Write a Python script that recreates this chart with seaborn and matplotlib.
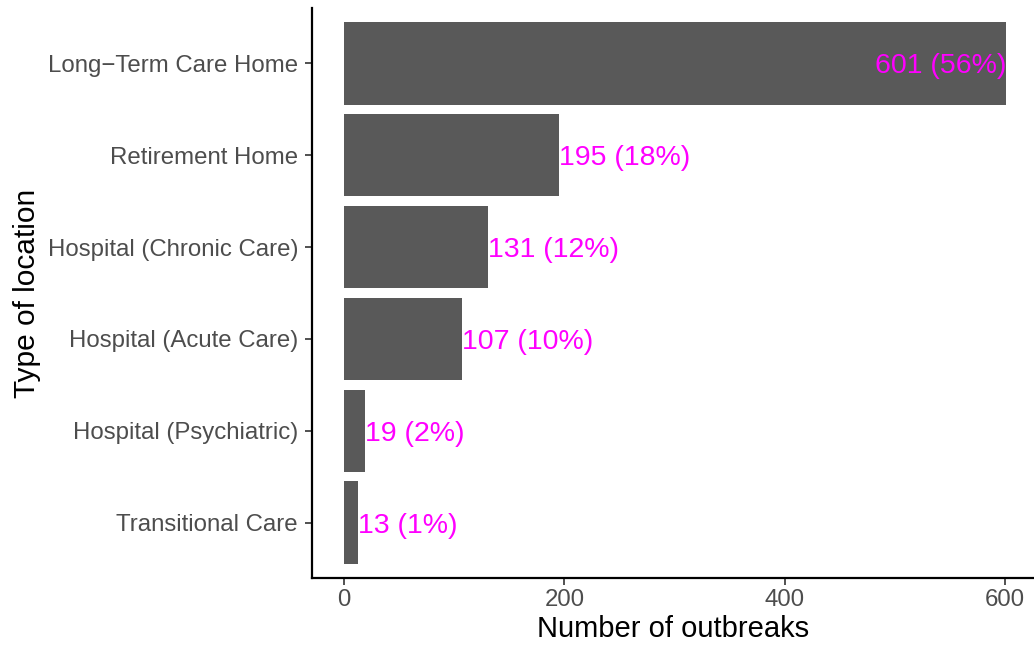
import pandas as pd
import seaborn as sns
import matplotlib.pyplot as plt

# outbreak counts by type of location
locations = ['Long\u2212Term Care Home', 'Retirement Home', 'Hospital (Chronic Care)',
             'Hospital (Acute Care)', 'Hospital (Psychiatric)', 'Transitional Care']
counts = [601, 195, 131, 107, 19, 13]
percents = [56, 18, 12, 10, 2, 1]

df = pd.DataFrame({'location': locations, 'count': counts, 'pct': percents})

sns.set_style('white')
plt.rcParams['font.family'] = ['Liberation Sans', 'DejaVu Sans']

fig = plt.figure(figsize=(10.34, 6.51), dpi=100)
ax = fig.add_axes([312 / 1034, 73 / 651, 1 - 312 / 1034, (578 - 8) / 651])

sns.barplot(data=df, x='count', y='location', order=locations, orient='h',
            color='#595959', saturation=1, width=0.9, linewidth=0, ax=ax)

# labels next to each bar, the biggest one goes inside
for i, row in df.iterrows():
    lab = f"{row['count']} ({row['pct']}%)"
    ha = 'right' if row['count'] == max(counts) else 'left'
    ax.text(row['count'], i, lab, ha=ha, va='center_baseline', color='#FF00FF', fontsize=20.5)

ax.set_xlim(-29.05, (1034 - 344) / (661 / 600))
ax.set_ylim(len(locations) - 0.4, -0.6)
ax.set_xticks([0, 200, 400, 600])

ax.set_xlabel('Number of outbreaks', fontsize=21, color='black', labelpad=3)
ax.set_ylabel('Type of location', fontsize=21.5, color='black', labelpad=5)

for side in ['top', 'right']:
    ax.spines[side].set_visible(False)
for side in ['left', 'bottom']:
    ax.spines[side].set_linewidth(1.6)
    ax.spines[side].set_color('black')

ax.tick_params(axis='both', labelsize=17.3, labelcolor='#4D4D4D', color='#333333',
               length=5, width=1.2, left=True, bottom=True)
ax.tick_params(axis='y', pad=5)
ax.tick_params(axis='x', pad=3)

plt.savefig('out.png', dpi=100)
